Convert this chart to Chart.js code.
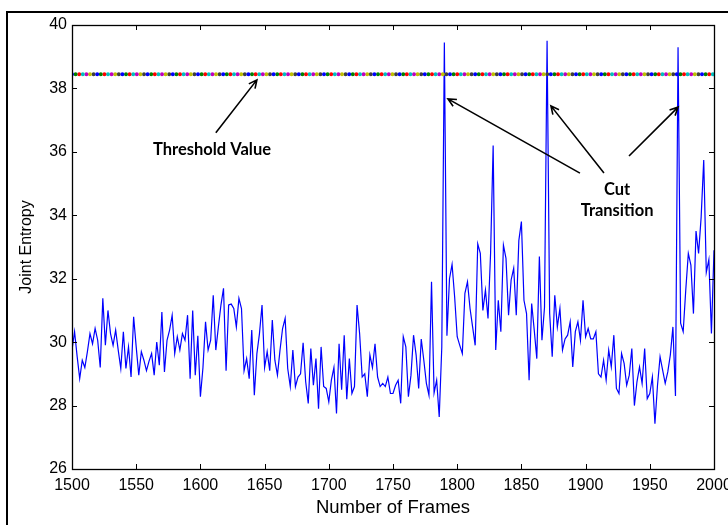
<!DOCTYPE html>
<html>
<head>
<meta charset="utf-8">
<script src="https://cdn.jsdelivr.net/npm/chart.js@4.4.1/dist/chart.umd.min.js"></script>
<style>
html, body { margin: 0; padding: 0; background: #fff; overflow: hidden; }
#wrap { position: relative; width: 728px; height: 525px; overflow: hidden; }
#frame { position: absolute; left: 6px; top: 11px; width: 800px; height: 600px; border: 2px solid #000; }
canvas { position: absolute; left: 0; top: 0; }
</style>
</head>
<body>
<div id="wrap">
  <div id="frame"></div>
  <canvas id="myChart" width="728" height="525"></canvas>
</div>
<script>
// frames 1500..2000, one value every 2 frames
const firstFrame = 1500;
const frameStep = 2;
const jointEntropy = [
  29.75, 30.33, 29.55, 28.85, 29.43, 29.2, 29.7, 30.27, 29.95, 30.43,
  30.06, 29.2, 31.38, 29.9, 31.0, 30.27, 29.9, 30.38, 29.75, 29.17,
  30.33, 29.17, 29.85, 28.9, 30.8, 29.85, 28.96, 29.7, 29.43, 29.1,
  29.4, 29.64, 28.96, 30.0, 29.27, 30.95, 29.06, 30.06, 30.38, 30.85,
  29.64, 30.17, 29.75,
  30.27, 30.06, 30.85, 28.85, 31.0, 28.96, 30.2, 28.28, 29.2, 30.64,
  29.75, 30.06, 31.48, 29.75, 30.48, 31.17, 31.7, 29.1, 31.17, 31.2,
  31.06, 30.48, 31.38, 31.06, 29.1, 29.48, 28.85, 30.38, 28.33, 29.64,
  30.27, 31.17, 29.2, 29.7, 29.1, 30.7, 29.43, 28.96, 29.75, 30.43,
  30.75,
  29.17, 28.6, 29.75, 28.6, 28.9, 29.0, 29.98, 28.75, 28.07, 29.8,
  28.64, 29.48, 27.9, 29.85, 28.6, 28.54, 28.12, 28.8, 29.2, 27.75,
  29.95, 28.5, 30.22, 28.2, 29.48, 28.38, 28.6, 31.17, 30.27, 28.9,
  29.0, 28.28, 29.6, 29.2, 29.95, 28.9, 28.6, 28.7, 28.6, 28.9,
  28.38,
  28.38, 28.64, 28.8, 28.07, 30.17, 29.85, 28.28, 28.96, 30.22, 29.6,
  28.54, 30.1, 29.43, 28.7, 28.33, 31.9, 28.4, 28.8, 27.64, 29.85,
  39.45, 30.2, 32.0, 32.45, 31.43, 30.17, 29.9, 29.64, 31.54, 31.9,
  31.06, 30.48, 29.9, 33.1, 32.8, 31.0, 31.64, 30.75, 32.8, 36.2,
  29.75, 31.32, 30.33, 33.06, 32.64, 30.85, 31.96, 32.33, 30.85, 33.2,
  33.8, 31.32, 30.9, 28.8, 31.22, 30.38, 29.48, 32.7, 30.06, 31.1,
  39.5, 30.9, 29.54, 31.48, 30.48, 31.06, 29.75, 30.1, 30.22, 30.64,
  29.22, 30.33, 30.64, 30.06, 31.32, 30.17, 30.43, 30.1, 30.1, 30.33,
  29.0,
  28.9, 29.43, 28.8, 29.75, 29.22, 30.22, 28.54, 28.38, 29.64, 29.33,
  28.64, 28.96, 29.8, 28.0, 28.75, 29.22, 28.7, 29.8, 28.22, 28.38,
  28.9, 27.43, 28.64, 29.54, 29.12, 28.7, 29.06, 29.6, 30.48, 28.3,
  39.3, 30.6, 30.33, 31.64, 32.8, 32.43, 30.9, 33.5, 32.8, 33.95,
  35.74, 32.2, 32.6, 30.27, 32.9
];

const thresholdValue = 38.45;
const thresholdColors = ['#0000ff', '#008000', '#ff0000', '#00bfbf', '#bf00bf', '#bfbf00', '#3f3f3f'];

const xMin = 1500, xMax = 2000, xStep = 50;
const yMin = 26, yMax = 40, yStep = 2;

// annotation arrows and texts, in data units
const arrows = [
  { from: [1612, 36.6], to: [1644, 38.27] },
  { from: [1895.6, 35.33], to: [1792.8, 37.67] },
  { from: [1914.3, 35.33], to: [1873, 37.45] },
  { from: [1933.8, 35.87], to: [1972, 37.41] }
];
const notes = [
  { text: 'Threshold Value', at: [1609, 36.06] },
  { text: 'Cut', at: [1924.5, 34.8] },
  { text: 'Transition', at: [1924.5, 34.13] }
];

const entropyPoints = jointEntropy.map((v, i) => ({ x: firstFrame + i * frameStep, y: v }));

// one dotted line per colour, shifted so the dots cycle through the colours
const dotGap = 3.6;
const thresholdSets = thresholdColors.map((c, i) => ({
  data: [{ x: xMin, y: thresholdValue }, { x: xMax, y: thresholdValue }],
  borderColor: c,
  borderWidth: 4,
  borderCapStyle: 'round',
  borderDash: [0, dotGap * thresholdColors.length],
  borderDashOffset: -i * dotGap,
  pointRadius: 0
}));

const axesPlugin = {
  id: 'matlabAxes',
  afterDraw(chart) {
    const { ctx, chartArea: a, scales } = chart;
    ctx.save();
    ctx.strokeStyle = '#000';
    ctx.lineWidth = 1;
    ctx.beginPath();
    scales.x.ticks.forEach(t => {
      const px = Math.round(scales.x.getPixelForValue(t.value)) + 0.5;
      ctx.moveTo(px, a.bottom); ctx.lineTo(px, a.bottom - 5);
      ctx.moveTo(px, a.top); ctx.lineTo(px, a.top + 5);
    });
    scales.y.ticks.forEach(t => {
      const py = Math.round(scales.y.getPixelForValue(t.value)) + 0.5;
      ctx.moveTo(a.left, py); ctx.lineTo(a.left + 5, py);
      ctx.moveTo(a.right, py); ctx.lineTo(a.right - 5, py);
    });
    ctx.stroke();
    ctx.lineWidth = 1.3;
    ctx.strokeRect(Math.round(a.left) + 0.5, Math.round(a.top) + 0.5, Math.round(a.right - a.left), Math.round(a.bottom - a.top));
    ctx.restore();
  }
};

const annotationPlugin = {
  id: 'notes',
  afterDatasetsDraw(chart) {
    const { ctx, scales: { x, y } } = chart;
    ctx.save();
    ctx.strokeStyle = '#000';
    ctx.lineWidth = 1.6;
    arrows.forEach(a => {
      const x1 = x.getPixelForValue(a.from[0]), y1 = y.getPixelForValue(a.from[1]);
      const x2 = x.getPixelForValue(a.to[0]), y2 = y.getPixelForValue(a.to[1]);
      const ang = Math.atan2(y2 - y1, x2 - x1);
      const len = 9, spread = 0.45;
      ctx.beginPath();
      ctx.moveTo(x1, y1); ctx.lineTo(x2, y2);
      ctx.moveTo(x2 - len * Math.cos(ang - spread), y2 - len * Math.sin(ang - spread));
      ctx.lineTo(x2, y2);
      ctx.lineTo(x2 - len * Math.cos(ang + spread), y2 - len * Math.sin(ang + spread));
      ctx.stroke();
    });
    ctx.fillStyle = '#000';
    ctx.font = 'bold 16.5px Lato, "Open Sans", sans-serif';
    ctx.textAlign = 'center';
    ctx.textBaseline = 'middle';
    notes.forEach(n => {
      ctx.fillText(n.text, x.getPixelForValue(n.at[0]), y.getPixelForValue(n.at[1]));
    });
    ctx.restore();
  }
};

const tickFont = { family: '"Liberation Sans", Arial, sans-serif', size: 16 };

new Chart(document.getElementById('myChart'), {
  type: 'line',
  data: {
    datasets: [
      ...thresholdSets,
      {
        data: entropyPoints,
        borderColor: '#0000ff',
        borderWidth: 1.2,
        pointRadius: 0,
        tension: 0
      }
    ]
  },
  options: {
    responsive: false,
    animation: false,
    layout: { padding: { top: 25, right: 14, left: 0, bottom: 0 } },
    plugins: { legend: { display: false }, tooltip: { enabled: false } },
    scales: {
      x: {
        type: 'linear',
        min: xMin, max: xMax,
        ticks: { stepSize: xStep, padding: 7, color: '#000', font: tickFont, maxRotation: 0, callback: v => String(v) },
        grid: { display: false, drawTicks: false },
        border: { display: false },
        title: { display: true, text: 'Number of Frames', color: '#000', font: { family: tickFont.family, size: 18.5 }, padding: { top: 0, bottom: 6 } },
        afterFit(s) { s.height = 56; s.paddingLeft = 0; s.paddingRight = 0; }
      },
      y: {
        min: yMin, max: yMax,
        ticks: { stepSize: yStep, padding: 5, color: '#000', font: tickFont },
        grid: { display: false, drawTicks: false },
        border: { display: false },
        title: { display: true, text: 'Joint Entropy', color: '#000', font: { family: tickFont.family, size: 16 }, padding: { top: 17, bottom: 0 } },
        afterFit(s) { s.width = 72; s.paddingTop = 0; s.paddingBottom = 0; }
      }
    }
  },
  plugins: [axesPlugin, annotationPlugin]
});
</script>
</body>
</html>
